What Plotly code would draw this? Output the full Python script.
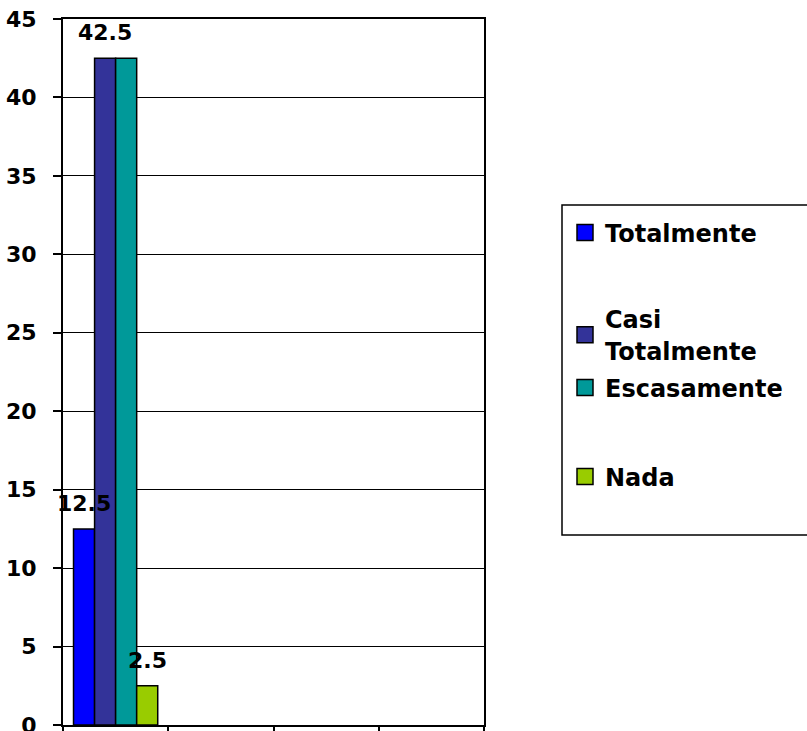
import plotly.graph_objects as go

categories = ["c1", "c2", "c3", "c4"]
series_names = ["Totalmente", "Casi<br>Totalmente", "Escasamente", "Nada"]
series_values = [
    [12.5, None, None, None],
    [42.5, None, None, None],
    [42.5, None, None, None],
    [2.5, None, None, None],
]
series_colors = ["#0000FF", "#333399", "#009999", "#99CC00"]
show_label = [True, True, False, True]
y_ticks = [0, 5, 10, 15, 20, 25, 30, 35, 40, 45]

FONT = "DejaVu Sans"
W, H = 807, 731
ML, MR, MT, MB = 63, 323, 19, 6
plot_w = W - ML - MR
plot_h = H - MT - MB

fig = go.Figure()
legend_ids = ["legend", "legend2", "legend3", "legend4"]
for i, (nm, vals, col) in enumerate(zip(series_names, series_values, series_colors)):
    fig.add_trace(go.Bar(
        x=categories, y=vals, name=nm,
        marker=dict(color=col, line=dict(color="black", width=1.5)),
        showlegend=False,
    ))
    fig.add_trace(go.Scatter(
        x=[None], y=[None], name=nm, mode="markers",
        marker=dict(symbol="square", size=18, color=col, line=dict(color="black", width=1.5)),
        legend=legend_ids[i], showlegend=True,
    ))

# data labels
n = len(series_names)
bargap = 0.2
cat_px = plot_w / len(categories)
bar_px = cat_px * (1 - bargap) / n
for i in range(n):
    if not show_label[i]:
        continue
    for j, v in enumerate(series_values[i]):
        if v is None:
            continue
        fig.add_annotation(
            x=j, y=v, text=f"<b>{v}</b>", showarrow=False,
            xshift=(i - (n - 1) / 2) * bar_px, yshift=11, yanchor="bottom",
            font=dict(family=FONT, size=22, color="black"),
        )

# legend box
def px_to_paper_x(px):
    return (px - ML) / plot_w

def px_to_paper_y(py):
    return (H - MB - py) / plot_h

fig.add_shape(type="rect", xref="paper", yref="paper",
              x0=px_to_paper_x(562), x1=px_to_paper_x(812),
              y0=px_to_paper_y(535), y1=px_to_paper_y(205),
              line=dict(color="black", width=1.5), fillcolor="white", layer="below")

legend_centers = [233, 335, 388, 477]
lay_legends = {}
for i, lid in enumerate(legend_ids):
    lay_legends[lid] = dict(
        x=px_to_paper_x(565), y=px_to_paper_y(legend_centers[i]),
        xanchor="left", yanchor="middle",
        bgcolor="rgba(0,0,0,0)", borderwidth=0,
        font=dict(family=FONT, size=24, color="black", weight="bold"),
        itemwidth=30,
    )

fig.update_layout(
    width=W, height=H,
    margin=dict(l=ML, r=MR, t=MT, b=MB, pad=0, autoexpand=False),
    paper_bgcolor="white", plot_bgcolor="white",
    barmode="group", bargap=bargap, bargroupgap=0,
    showlegend=True,
    font=dict(family=FONT, color="black"),
    **lay_legends,
)
fig.update_xaxes(
    type="category", range=[-0.5, len(categories) - 0.5],
    showticklabels=False, ticks="outside", tickson="boundaries",
    ticklen=8, tickwidth=1.5, tickcolor="black", automargin=False,
    showline=True, linecolor="black", linewidth=2, mirror=True, showgrid=False,
)
fig.update_yaxes(
    range=[0, 45], tickvals=y_ticks, ticks="outside", ticklen=8, tickwidth=1.5,
    tickcolor="black", showline=True, linecolor="black", linewidth=2, mirror=True,
    showgrid=True, gridcolor="black", gridwidth=1, zeroline=False, automargin=False,
    tickfont=dict(family=FONT, size=22, color="black", weight="bold"),
    ticklabelstandoff=12, ticklabeloverflow="allow",
)
fig.write_html(
    "out.html",
    config={"displayModeBar": False},
    post_script="document.body.style.margin='0px';document.body.style.overflow='hidden';",
)
